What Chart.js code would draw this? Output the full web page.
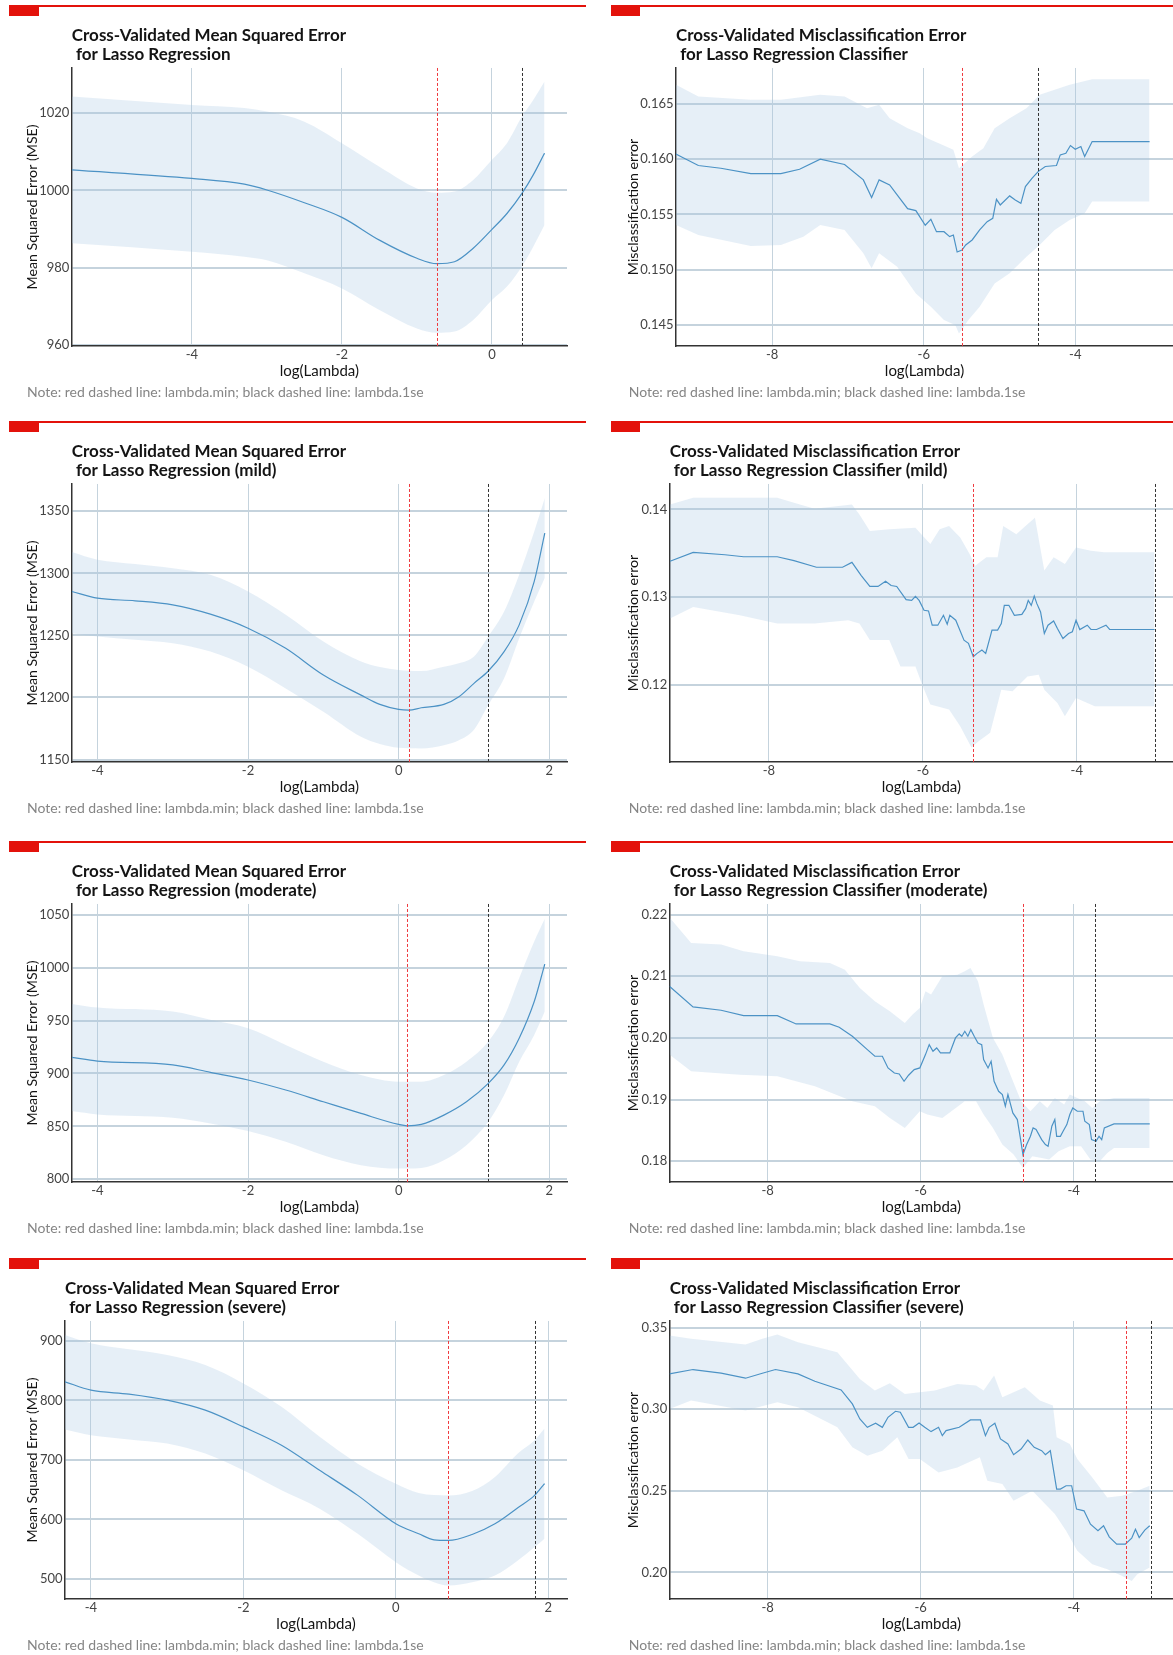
<!DOCTYPE html>
<html>
<head>
<meta charset="utf-8">
<script src="https://cdn.jsdelivr.net/npm/chart.js@4.4.1/dist/chart.umd.min.js"></script>
<style>
  body { margin: 0; background: #fff; width: 1173px; height: 1655px; position: relative; overflow: hidden; }
  canvas { position: absolute; }
  .red { position: absolute; background: #e3120b; }
</style>
</head>
<body>
<script>
// ---- data ----
const NOTE = 'Note: red dashed line: lambda.min; black dashed line: lambda.1se';
const MSE_TITLE = 'Mean Squared Error (MSE)';
const ERR_TITLE = 'Misclassification error';

// regression, all data
const regAllX = [-5.6, -4, -3.3, -3, -2.5, -2, -1.5, -1, -0.735, -0.5, -0.25, 0, 0.2, 0.4, 0.55, 0.7];
const regAllMean = [1005.3, 1003.1, 1001.6, 1000.1, 996.8, 993.0, 987.1, 982.4, 981.0, 981.5, 985.0, 989.9, 994.0, 999.2, 1004.0, 1009.6];
const regAllUpper = [1024.3, 1022.1, 1021.3, 1020.4, 1017.8, 1012.2, 1006.1, 1000.5, 999.4, 999.7, 1002.7, 1007.9, 1012.2, 1019.1, 1023.4, 1028.2];
const regAllLower = [986.3, 984.1, 982.8, 981.9, 978.5, 974.6, 969.0, 964.2, 963.1, 963.4, 966.4, 971.6, 975.1, 980.3, 985.4, 991.0];
const regAllLambda = [-0.735, 0.40];
const regAllXTicks = [-4, -2, 0];
const regAllYTicks = [960, 980, 1000, 1020];

// regression, mild
const regMildX = [-4.34, -4, -3.5, -3, -2.5, -2, -1.5, -1, -0.5, -0.25, 0, 0.135, 0.3, 0.6, 0.8, 1.0, 1.19, 1.4, 1.6, 1.8, 1.94];
const regMildMean = [1285.4, 1280, 1277.9, 1274.6, 1267.1, 1255.8, 1239.6, 1218.1, 1201.9, 1194.4, 1190.4, 1189.8, 1191.7, 1194.4, 1200.6, 1211.4, 1221.3, 1236.9, 1258.5, 1293.5, 1332.5];
const regMildUpper = [1317.2, 1311, 1307.5, 1304.2, 1298.9, 1285.4, 1266.6, 1245, 1228.9, 1224.5, 1222.1, 1221.5, 1221.3, 1224.8, 1227.5, 1233, 1249.1, 1269.2, 1298.9, 1333.8, 1360.8];
const regMildLower = [1251.7, 1249.1, 1246.5, 1243.7, 1237, 1224.8, 1207.3, 1188.5, 1168.3, 1162.5, 1159.4, 1159, 1158.9, 1161.6, 1165.5, 1174, 1193.9, 1215.4, 1247.7, 1277.3, 1296.2];
const regMildLambda = [0.135, 1.19];
const regMildXTicks = [-4, -2, 0, 2];
const regMildYTicks = [1150, 1200, 1250, 1300, 1350];

// regression, moderate
const regModX = [-4.34, -4, -3, -2.5, -2, -1.5, -1, -0.5, 0, 0.11, 0.3, 0.6, 0.9, 1.19, 1.4, 1.6, 1.8, 1.94];
const regModMean = [915.2, 911.7, 908, 901, 893.8, 884.3, 873.2, 862.2, 851.8, 850.5, 851.8, 860.6, 873.2, 890.6, 908, 933.2, 967.9, 1003.3];
const regModUpper = [965.7, 962.2, 958.5, 950.6, 942.7, 926.9, 911.1, 898.5, 892.2, 892.2, 892.2, 898.5, 911.1, 930.1, 953.7, 990, 1024.7, 1046.2];
const regModLower = [864.4, 861.2, 858.1, 852.7, 845.5, 835.4, 822.7, 813.3, 810.1, 810.2, 810.7, 818, 832.2, 854.3, 879.5, 911.1, 936.4, 958.5];
const regModLambda = [0.11, 1.19];
const regModXTicks = [-4, -2, 0, 2];
const regModYTicks = [800, 850, 900, 950, 1000, 1050];

// regression, severe
const regSevX = [-4.34, -4, -3.5, -3, -2.5, -2, -1.5, -1, -0.5, 0, 0.3, 0.5, 0.69, 1.0, 1.3, 1.6, 1.82, 1.95];
const regSevMean = [831.5, 817.4, 810.7, 800.6, 783.7, 755.6, 724.7, 682.6, 640.4, 592.7, 575.8, 565.7, 564.6, 574.7, 592.7, 619.7, 640.4, 660.1];
const regSevUpper = [910.1, 896.1, 886, 876.4, 859.6, 828.7, 789.3, 738.8, 693.8, 660.1, 644.4, 641, 640.4, 647.8, 671.3, 710.7, 733.1, 752.8];
const regSevLower = [751.1, 741.6, 734.5, 727.5, 710.7, 682.6, 648.9, 618, 575.8, 528.1, 505.6, 494.4, 488.8, 494.4, 505.6, 530.9, 553.4, 567.4];
const regSevLambda = [0.69, 1.82];
const regSevXTicks = [-4, -2, 0, 2];
const regSevYTicks = [500, 600, 700, 800, 900];

// classifier, all data
const clsAllMeanX = [-9.272, -8.975, -8.678, -8.282, -7.886, -7.639, -7.366, -7.045, -6.797, -6.688, -6.589, -6.450, -6.351, -6.213, -6.104, -5.980, -5.906, -5.832, -5.733, -5.658, -5.609, -5.559, -5.495, -5.446, -5.361, -5.262, -5.163, -5.089, -5.040, -4.990, -4.866, -4.792, -4.718, -4.658, -4.569, -4.490, -4.396, -4.248, -4.198, -4.124, -4.064, -4.0, -3.926, -3.876, -3.777, -3.020];
const clsAllMean = [0.16048, 0.15943, 0.15918, 0.1587, 0.1587, 0.15909, 0.16, 0.15952, 0.15813, 0.15653, 0.15813, 0.15767, 0.15677, 0.15553, 0.15535, 0.15402, 0.15456, 0.15344, 0.15344, 0.15299, 0.15314, 0.1516, 0.15178, 0.15224, 0.15269, 0.1536, 0.15435, 0.15465, 0.15637, 0.15586, 0.15668, 0.15631, 0.15601, 0.15752, 0.15828, 0.15888, 0.15934, 0.15943, 0.16039, 0.16054, 0.16124, 0.1609, 0.16115, 0.16024, 0.1616, 0.1616];
const clsAllUpX = [-9.272, -8.975, -8.282, -7.886, -7.366, -7.045, -6.748, -6.589, -6.450, -6.213, -6.054, -5.955, -5.757, -5.609, -5.535, -5.460, -5.361, -5.213, -5.064, -4.866, -4.644, -4.470, -4.272, -4.074, -3.777, -3.020];
const clsAllUp = [0.16674, 0.16568, 0.16538, 0.16538, 0.16583, 0.16568, 0.16462, 0.16493, 0.16372, 0.16281, 0.16236, 0.1619, 0.1613, 0.16085, 0.15918, 0.15964, 0.16024, 0.161, 0.16281, 0.16372, 0.16462, 0.16583, 0.16628, 0.16674, 0.16725, 0.16725];
const clsAllLoX = [-9.272, -8.975, -8.282, -7.886, -7.589, -7.366, -7.045, -6.797, -6.688, -6.589, -6.351, -6.104, -5.906, -5.733, -5.584, -5.535, -5.411, -5.262, -5.064, -4.866, -4.644, -4.470, -4.272, -4.074, -3.876, -3.777, -3.020];
const clsAllLo = [0.15405, 0.15314, 0.15215, 0.15224, 0.15299, 0.15405, 0.1536, 0.15148, 0.15012, 0.15148, 0.15027, 0.14785, 0.14665, 0.14544, 0.14499, 0.14423, 0.14544, 0.14665, 0.14876, 0.14967, 0.15118, 0.15224, 0.1536, 0.1545, 0.15511, 0.15617, 0.15617];
const clsAllLambda = [-5.50, -4.49];
const clsXTicks = [-8, -6, -4];
const clsAllYTicks = [0.145, 0.150, 0.155, 0.160, 0.165];

// classifier, mild
const clsMildMeanX = [-9.286, -8.985, -8.573, -8.330, -7.893, -7.675, -7.383, -7.044, -6.922, -6.801, -6.689, -6.583, -6.485, -6.413, -6.340, -6.218, -6.146, -6.097, -6.049, -5.985, -5.927, -5.879, -5.806, -5.733, -5.684, -5.650, -5.573, -5.466, -5.408, -5.345, -5.296, -5.233, -5.184, -5.102, -5.029, -4.981, -4.942, -4.883, -4.811, -4.714, -4.665, -4.631, -4.592, -4.553, -4.519, -4.471, -4.422, -4.374, -4.301, -4.252, -4.180, -4.107, -4.058, -4.010, -3.961, -3.864, -3.816, -3.743, -3.621, -3.573, -2.990];
const clsMildMean = [0.13408, 0.1351, 0.13483, 0.1346, 0.1346, 0.13415, 0.1334, 0.1334, 0.13396, 0.13245, 0.13121, 0.13121, 0.13181, 0.13132, 0.13121, 0.1297, 0.12962, 0.13008, 0.12962, 0.12849, 0.12842, 0.12679, 0.12679, 0.12792, 0.12691, 0.12792, 0.12736, 0.12509, 0.12472, 0.12321, 0.12358, 0.12396, 0.12358, 0.12623, 0.12623, 0.12698, 0.12906, 0.12906, 0.12792, 0.12803, 0.12868, 0.12962, 0.12906, 0.13011, 0.12925, 0.1283, 0.12585, 0.12679, 0.12728, 0.12642, 0.12528, 0.12585, 0.12604, 0.12736, 0.1263, 0.12679, 0.1263, 0.1263, 0.12679, 0.1263, 0.1263];
const clsMildUpX = [-9.286, -8.985, -7.893, -7.675, -7.408, -6.922, -6.825, -6.689, -6.437, -6.097, -6.0, -5.903, -5.782, -5.660, -5.515, -5.393, -5.320, -5.175, -5.029, -4.956, -4.786, -4.641, -4.544, -4.422, -4.301, -4.155, -4.010, -3.816, -3.646, -2.990];
const clsMildUp = [0.14057, 0.14132, 0.14132, 0.14075, 0.14008, 0.14057, 0.13943, 0.13755, 0.13774, 0.13792, 0.13698, 0.13604, 0.13774, 0.13811, 0.13679, 0.1349, 0.13358, 0.13453, 0.13453, 0.13811, 0.13717, 0.1383, 0.13906, 0.13302, 0.13453, 0.13377, 0.13566, 0.13528, 0.1351, 0.1351];
const clsMildLoX = [-9.286, -8.985, -8.379, -7.893, -7.408, -6.971, -6.825, -6.689, -6.437, -6.291, -6.097, -6.0, -5.903, -5.660, -5.515, -5.369, -5.272, -5.126, -4.981, -4.835, -4.641, -4.495, -4.422, -4.252, -4.155, -4.010, -3.767, -2.990];
const clsMildLo = [0.12755, 0.12887, 0.12792, 0.12698, 0.12698, 0.12736, 0.12698, 0.12509, 0.12509, 0.12208, 0.12208, 0.11981, 0.11774, 0.11717, 0.11528, 0.11283, 0.11358, 0.11453, 0.11943, 0.11925, 0.12094, 0.12113, 0.11943, 0.11792, 0.11642, 0.11849, 0.11755, 0.11755];
const clsMildLambda = [-5.35, -2.99];
const clsMildYTicks = [0.12, 0.13, 0.14];

// classifier, moderate
const clsModMeanX = [-9.284, -8.975, -8.608, -8.314, -7.873, -7.627, -7.186, -7.064, -6.892, -6.696, -6.598, -6.500, -6.426, -6.343, -6.279, -6.216, -6.157, -6.083, -6.010, -5.936, -5.887, -5.838, -5.789, -5.740, -5.618, -5.544, -5.495, -5.461, -5.422, -5.382, -5.343, -5.299, -5.250, -5.201, -5.176, -5.118, -5.078, -5.039, -4.980, -4.931, -4.892, -4.858, -4.794, -4.735, -4.696, -4.662, -4.613, -4.564, -4.529, -4.490, -4.417, -4.368, -4.333, -4.284, -4.245, -4.221, -4.172, -4.137, -4.088, -4.049, -4.010, -3.951, -3.877, -3.853, -3.794, -3.765, -3.706, -3.667, -3.632, -3.598, -3.471, -3.005];
const clsModMean = [0.20838, 0.20503, 0.20449, 0.20362, 0.20362, 0.20227, 0.20227, 0.20173, 0.20027, 0.19811, 0.19703, 0.19703, 0.19514, 0.19432, 0.19416, 0.19297, 0.19395, 0.19486, 0.19514, 0.1973, 0.19892, 0.19784, 0.19838, 0.19757, 0.19757, 0.2, 0.20065, 0.20027, 0.20108, 0.20027, 0.20135, 0.20027, 0.19919, 0.19892, 0.19649, 0.19514, 0.19622, 0.19297, 0.19135, 0.19081, 0.18892, 0.19081, 0.18784, 0.18676, 0.18378, 0.18108, 0.1827, 0.18405, 0.18541, 0.18514, 0.18351, 0.1827, 0.18243, 0.18568, 0.18676, 0.18405, 0.18405, 0.18486, 0.18595, 0.18757, 0.18865, 0.18811, 0.18811, 0.18649, 0.18595, 0.18351, 0.18324, 0.18405, 0.18351, 0.18541, 0.18605, 0.18605];
const clsModUpX = [-9.284, -9.0, -8.608, -8.314, -7.873, -7.578, -7.186, -6.990, -6.794, -6.598, -6.402, -6.206, -6.108, -6.010, -5.936, -5.863, -5.716, -5.520, -5.422, -5.348, -5.250, -5.176, -5.054, -4.931, -4.809, -4.686, -4.564, -4.441, -4.343, -4.245, -4.123, -4.049, -3.951, -3.853, -3.755, -3.657, -3.559, -3.471, -3.005];
const clsModUp = [0.21957, 0.21541, 0.21514, 0.21405, 0.21324, 0.21243, 0.21216, 0.21108, 0.20811, 0.20595, 0.20432, 0.20243, 0.20378, 0.20486, 0.20757, 0.20703, 0.21, 0.21027, 0.21081, 0.21135, 0.20919, 0.20541, 0.2, 0.1973, 0.19351, 0.18973, 0.18811, 0.18973, 0.18865, 0.19027, 0.18919, 0.19081, 0.19027, 0.18973, 0.18865, 0.18973, 0.19, 0.19027, 0.19027];
const clsModLoX = [-9.284, -9.0, -8.363, -7.873, -7.382, -6.892, -6.598, -6.402, -6.206, -6.010, -5.912, -5.716, -5.422, -5.275, -5.176, -5.054, -4.931, -4.784, -4.662, -4.539, -4.417, -4.319, -4.196, -4.049, -3.902, -3.779, -3.657, -3.559, -3.471, -3.005];
const clsModLo = [0.1973, 0.19459, 0.19405, 0.19378, 0.19216, 0.18973, 0.18892, 0.18703, 0.18541, 0.18811, 0.18757, 0.18703, 0.18973, 0.18973, 0.18757, 0.18541, 0.1827, 0.18108, 0.17892, 0.18081, 0.18054, 0.18027, 0.18162, 0.18243, 0.18243, 0.18027, 0.18, 0.18135, 0.18216, 0.18216];
const clsModLambda = [-4.66, -3.72];
const clsModYTicks = [0.18, 0.19, 0.20, 0.21, 0.22];

// classifier, severe
const clsSevMeanX = [-9.284, -8.975, -8.608, -8.289, -8.069, -7.897, -7.603, -7.382, -7.039, -6.892, -6.794, -6.696, -6.588, -6.500, -6.426, -6.328, -6.265, -6.157, -6.098, -6.020, -5.946, -5.863, -5.765, -5.716, -5.667, -5.495, -5.348, -5.216, -5.152, -5.103, -5.029, -4.956, -4.858, -4.784, -4.686, -4.598, -4.515, -4.417, -4.368, -4.304, -4.221, -4.172, -4.098, -4.025, -3.961, -3.863, -3.779, -3.681, -3.608, -3.534, -3.436, -3.324, -3.240, -3.191, -3.142, -3.069, -3.005];
const clsSevMean = [0.32169, 0.32435, 0.3221, 0.31903, 0.3221, 0.32435, 0.32169, 0.31719, 0.31187, 0.30327, 0.29407, 0.28895, 0.29141, 0.28895, 0.29509, 0.29877, 0.29816, 0.28895, 0.28895, 0.29161, 0.28895, 0.28629, 0.28895, 0.28383, 0.2869, 0.28895, 0.29345, 0.29345, 0.28383, 0.28895, 0.29141, 0.28179, 0.27872, 0.27217, 0.27565, 0.28117, 0.27667, 0.27463, 0.27217, 0.27463, 0.25109, 0.25109, 0.25314, 0.25314, 0.23882, 0.23779, 0.22961, 0.22552, 0.22859, 0.22183, 0.21733, 0.21733, 0.22101, 0.22654, 0.22142, 0.22593, 0.22859];
const clsSevUpX = [-9.284, -9.0, -8.289, -8.069, -7.873, -7.603, -7.088, -6.794, -6.598, -6.402, -6.206, -6.010, -5.814, -5.520, -5.275, -5.176, -5.039, -4.931, -4.637, -4.441, -4.270, -4.221, -4.049, -3.951, -3.755, -3.559, -3.363, -3.167, -3.005];
const clsSevUp = [0.34522, 0.34318, 0.3397, 0.34318, 0.34584, 0.34113, 0.33499, 0.31862, 0.31146, 0.31596, 0.30941, 0.31044, 0.31146, 0.31555, 0.31453, 0.31146, 0.32067, 0.30737, 0.3135, 0.30532, 0.30225, 0.28281, 0.27872, 0.26951, 0.25826, 0.24598, 0.24701, 0.25007, 0.25314];
const clsSevLoX = [-9.284, -9.0, -8.289, -7.873, -7.603, -7.088, -6.892, -6.696, -6.500, -6.304, -6.157, -6.010, -5.765, -5.520, -5.225, -5.127, -4.931, -4.784, -4.539, -4.245, -4.098, -3.951, -3.755, -3.559, -3.363, -3.240, -3.167, -3.005];
const clsSevLo = [0.3002, 0.30532, 0.29918, 0.3043, 0.30123, 0.28895, 0.27667, 0.27156, 0.27463, 0.28281, 0.26951, 0.26951, 0.26133, 0.26439, 0.27053, 0.25621, 0.25416, 0.24393, 0.25007, 0.23575, 0.22552, 0.21324, 0.20506, 0.20199, 0.19789, 0.19482, 0.19891, 0.20301];
const clsSevLambda = [-3.32, -2.99];
const clsSevYTicks = [0.20, 0.25, 0.30, 0.35];

// ---- layout ----
const FONT = "Lato, 'Open Sans', sans-serif";
const RED_Y = [6, 422, 842, 1259];
const COLS = [
  { barL: 9, barR: 39, lineR: 586, canvasL: 10, noteL: 27, canvasR: 586, padR: 19 },
  { barL: 611, barR: 640, lineR: 1173, canvasL: 612, noteL: 628.7, canvasR: 1173, padR: 0 }
];

const panels = [
  { col: 0, row: 0, title: ['Cross-Validated Mean Squared Error', ' for Lasso Regression'], yTitle: MSE_TITLE, smooth: true,
    mx: regAllX, m: regAllMean, ux: regAllX, u: regAllUpper, lx: regAllX, l: regAllLower, lam: regAllLambda,
    xt: regAllXTicks, yt: regAllYTicks, dec: 0, x0: -5.6, x1: 1.0, y0: 959.7, y1: 1031.7, plotL: 71.8 },
  { col: 1, row: 0, title: ['Cross-Validated Misclassification Error', ' for Lasso Regression Classifier'], yTitle: ERR_TITLE, smooth: false,
    mx: clsAllMeanX, m: clsAllMean, ux: clsAllUpX, u: clsAllUp, lx: clsAllLoX, l: clsAllLo, lam: clsAllLambda,
    xt: clsXTicks, yt: clsAllYTicks, dec: 3, x0: -9.27, x1: -2.71, y0: 0.1431, y1: 0.16826, plotL: 676 },
  { col: 0, row: 1, title: ['Cross-Validated Mean Squared Error', ' for Lasso Regression (mild)'], yTitle: MSE_TITLE, smooth: true,
    mx: regMildX, m: regMildMean, ux: regMildX, u: regMildUpper, lx: regMildX, l: regMildLower, lam: regMildLambda,
    xt: regMildXTicks, yt: regMildYTicks, dec: 0, x0: -4.34, x1: 2.235, y0: 1148.1, y1: 1372, plotL: 71.8 },
  { col: 1, row: 1, title: ['Cross-Validated Misclassification Error', ' for Lasso Regression Classifier (mild)'], yTitle: ERR_TITLE, smooth: false,
    mx: clsMildMeanX, m: clsMildMean, ux: clsMildUpX, u: clsMildUp, lx: clsMildLoX, l: clsMildLo, lam: clsMildLambda,
    xt: clsXTicks, yt: clsMildYTicks, dec: 2, x0: -9.29, x1: -2.75, y0: 0.1112, y1: 0.1429, plotL: 669.7 },
  { col: 0, row: 2, title: ['Cross-Validated Mean Squared Error', ' for Lasso Regression (moderate)'], yTitle: MSE_TITLE, smooth: true,
    mx: regModX, m: regModMean, ux: regModX, u: regModUpper, lx: regModX, l: regModLower, lam: regModLambda,
    xt: regModXTicks, yt: regModYTicks, dec: 0, x0: -4.34, x1: 2.235, y0: 797.5, y1: 1060.1, plotL: 71.8 },
  { col: 1, row: 2, title: ['Cross-Validated Misclassification Error', ' for Lasso Regression Classifier (moderate)'], yTitle: ERR_TITLE, smooth: false,
    mx: clsModMeanX, m: clsModMean, ux: clsModUpX, u: clsModUp, lx: clsModLoX, l: clsModLo, lam: clsModLambda,
    xt: clsXTicks, yt: clsModYTicks, dec: 2, x0: -9.28, x1: -2.70, y0: 0.17665, y1: 0.22173, plotL: 669.7 },
  { col: 0, row: 3, title: ['Cross-Validated Mean Squared Error', ' for Lasso Regression (severe)'], yTitle: MSE_TITLE, smooth: true,
    mx: regSevX, m: regSevMean, ux: regSevX, u: regSevUpper, lx: regSevX, l: regSevLower, lam: regSevLambda,
    xt: regSevXTicks, yt: regSevYTicks, dec: 0, x0: -4.34, x1: 2.245, y0: 466.3, y1: 933.7, plotL: 65 },
  { col: 1, row: 3, title: ['Cross-Validated Misclassification Error', ' for Lasso Regression Classifier (severe)'], yTitle: ERR_TITLE, smooth: false,
    mx: clsSevMeanX, m: clsSevMean, ux: clsSevUpX, u: clsSevUp, lx: clsSevLoX, l: clsSevLo, lam: clsSevLambda,
    xt: clsXTicks, yt: clsSevYTicks, dec: 2, x0: -9.28, x1: -2.70, y0: 0.1838, y1: 0.3541, plotL: 669.7 }
];

const pts = (xs, ys) => xs.map((x, i) => ({ x: x, y: ys[i] }));

// dashed lambda.min / lambda.1se lines
const cutoffLines = {
  id: 'cutoffLines',
  afterDatasetsDraw(chart, args, opts) {
    const { ctx, chartArea, scales } = chart;
    ctx.save();
    ctx.lineWidth = 1;
    ctx.setLineDash([3, 2]);
    [[opts.min, '#ef3b3f'], [opts.se, '#333333']].forEach(([v, c]) => {
      const px = Math.round(scales.x.getPixelForValue(v)) + 0.5;
      ctx.strokeStyle = c;
      ctx.beginPath();
      ctx.moveTo(px, chartArea.top);
      ctx.lineTo(px, chartArea.bottom);
      ctx.stroke();
    });
    ctx.restore();
  }
};

function addDiv(l, t, w, h) {
  const d = document.createElement('div');
  d.className = 'red';
  d.style.left = l + 'px'; d.style.top = t + 'px';
  d.style.width = w + 'px'; d.style.height = h + 'px';
  document.body.appendChild(d);
}

panels.forEach(p => {
  const c = COLS[p.col];
  const red = RED_Y[p.row];
  addDiv(c.barL, red - 1, c.lineR - c.barL, 2);
  addDiv(c.barL, red, c.barR - c.barL, 10);

  const cv = document.createElement('canvas');
  cv.width = c.canvasR - c.canvasL;
  cv.height = 381;
  cv.style.left = c.canvasL + 'px';
  cv.style.top = (red + 14) + 'px';
  document.body.appendChild(cv);

  const tension = p.smooth ? { cubicInterpolationMode: 'monotone' } : { tension: 0 };
  const band = 'rgba(166, 199, 226, 0.28)';

  new Chart(cv, {
    type: 'line',
    data: {
      datasets: [
        Object.assign({ data: pts(p.lx, p.l), borderColor: 'rgba(0,0,0,0)', borderWidth: 0, pointRadius: 0, fill: false }, tension),
        Object.assign({ data: pts(p.ux, p.u), borderColor: 'rgba(0,0,0,0)', borderWidth: 0, pointRadius: 0, fill: '-1', backgroundColor: band }, tension),
        Object.assign({ data: pts(p.mx, p.m), borderColor: '#2a7fba', borderWidth: 1.2, pointRadius: 0, fill: false }, tension)
      ]
    },
    plugins: [cutoffLines],
    options: {
      responsive: false,
      animation: false,
      devicePixelRatio: 1,
      events: [],
      layout: { padding: { left: c.noteL - c.canvasL, right: c.padR, top: 0, bottom: 0 } },
      plugins: {
        legend: { display: false },
        tooltip: { enabled: false },
        cutoffLines: { min: p.lam[0], se: p.lam[1] },
        title: {
          display: true, text: p.title, align: 'start', fullSize: false, color: '#141414',
          font: { family: FONT, size: 17, weight: 'bold', lineHeight: 1.12 },
          padding: { top: 5.5, bottom: 4.4 }
        },
        subtitle: {
          display: true, text: NOTE, position: 'bottom', align: 'start', color: '#858585',
          font: { family: FONT, size: 14, lineHeight: 1.2 },
          padding: { top: 4, bottom: 0 }
        }
      },
      scales: {
        x: {
          type: 'linear', min: p.x0, max: p.x1,
          afterBuildTicks: s => { s.ticks = p.xt.map(v => ({ value: v })); },
          afterFit: s => { s.height = 34.3; },
          ticks: { font: { family: FONT, size: 13 }, color: '#444', padding: 1.5, maxRotation: 0, callback: v => String(v) },
          grid: { color: '#c5d3dd', lineWidth: 1, drawTicks: false },
          border: { display: true, color: '#333', width: 1.5 },
          title: { display: true, text: 'log(Lambda)', color: '#141414', font: { family: FONT, size: 15, lineHeight: 1.2 }, padding: { top: 0, bottom: 0 } }
        },
        y: {
          type: 'linear', min: p.y0, max: p.y1,
          afterBuildTicks: s => { s.ticks = p.yt.map(v => ({ value: v })); },
          afterFit: s => { s.width = p.plotL - c.noteL; },
          ticks: { font: { family: FONT, size: 13 }, color: '#444', padding: 2.5, callback: v => v.toFixed(p.dec) },
          grid: { color: '#c5d3dd', lineWidth: 2, drawTicks: false },
          border: { display: true, color: '#333', width: 1.5 },
          title: { display: true, text: p.yTitle, color: '#141414', font: { family: FONT, size: 14.2, lineHeight: 0.7 }, padding: { top: 0, bottom: 0 } }
        }
      }
    }
  });
});
</script>
</body>
</html>
